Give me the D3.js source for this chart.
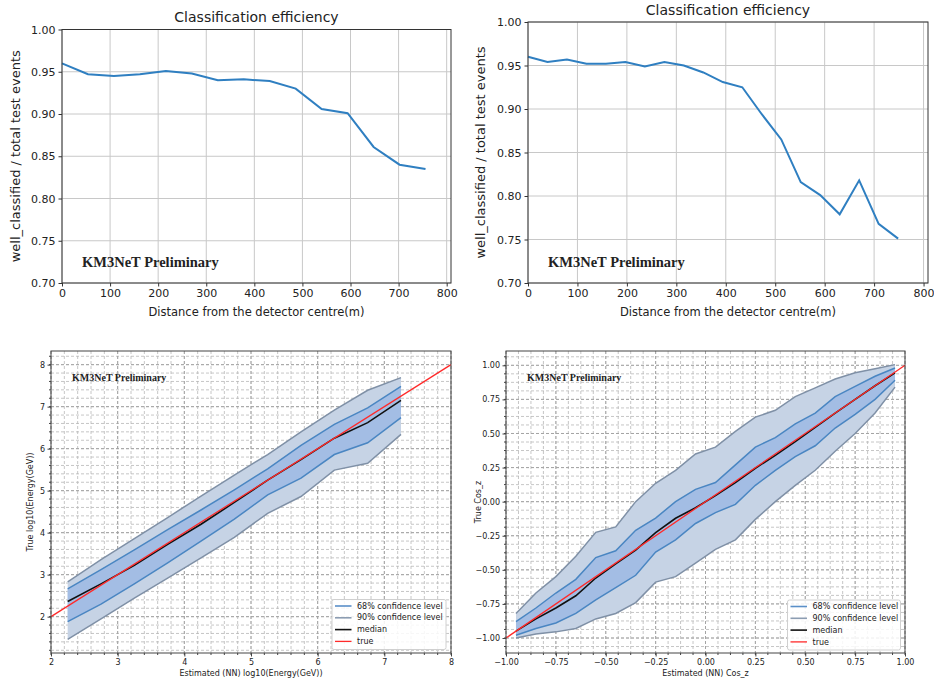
<!DOCTYPE html>
<html>
<head>
<meta charset="utf-8">
<script src="https://cdn.jsdelivr.net/npm/d3@7"></script>
<style>
body { margin: 0; background: #fff; }
text { font-family: "DejaVu Sans", sans-serif; fill: #222; }
.km3 { font-family: "Liberation Serif", serif; font-weight: bold; fill: #222; }
</style>
</head>
<body>
<div id="chart"></div>
<script>
// ---- top panels: classification efficiency
const distLeft = [0, 54, 108, 162, 216, 270, 324, 378, 432, 486, 540, 594, 648, 702, 756];
const effLeft = [0.960, 0.947, 0.945, 0.947, 0.951, 0.948, 0.940, 0.941, 0.939, 0.930, 0.906, 0.901, 0.861, 0.840, 0.835];
const distRight = [0, 39.4, 78.8, 118.2, 157.6, 197, 236.4, 275.8, 315.2, 354.6, 394, 433.4, 472.8, 512.2, 551.6, 591, 630.4, 669.8, 709.2, 748.6];
const effRight = [0.960, 0.954, 0.957, 0.952, 0.952, 0.954, 0.949, 0.954, 0.950, 0.942, 0.931, 0.925, 0.894, 0.865, 0.816, 0.801, 0.779, 0.818, 0.768, 0.751];
const effXTicks = [0, 100, 200, 300, 400, 500, 600, 700, 800];
const effYTicks = [0.70, 0.75, 0.80, 0.85, 0.90, 0.95, 1.00];

// ---- bottom left: energy
const energyX = [2.25, 2.75, 3.25, 3.75, 4.25, 4.75, 5.25, 5.75, 6.25, 6.75, 7.25];
const energy90lo = [1.46, 1.95, 2.44, 2.92, 3.40, 3.89, 4.46, 4.86, 5.49, 5.65, 6.34];
const energy68lo = [1.88, 2.30, 2.78, 3.28, 3.80, 4.32, 4.90, 5.30, 5.86, 6.14, 6.74];
const energyMed = [2.36, 2.78, 3.22, 3.72, 4.20, 4.72, 5.25, 5.74, 6.25, 6.62, 7.15];
const energy68hi = [2.66, 3.12, 3.59, 4.07, 4.54, 5.02, 5.52, 6.08, 6.58, 6.97, 7.48];
const energy90hi = [2.83, 3.36, 3.86, 4.36, 4.87, 5.37, 5.86, 6.40, 6.92, 7.39, 7.69];
const energyTrue = [2, 8];
const energyTicks = [2, 3, 4, 5, 6, 7, 8];

// ---- bottom right: cos zenith
const cosX = [-0.95, -0.85, -0.75, -0.65, -0.55, -0.45, -0.35, -0.25, -0.15, -0.05, 0.05, 0.15, 0.25, 0.35, 0.45, 0.55, 0.65, 0.75, 0.85, 0.95];
const cos90lo = [-1.00, -0.97, -0.955, -0.93, -0.86, -0.82, -0.74, -0.59, -0.55, -0.45, -0.35, -0.28, -0.13, 0.00, 0.12, 0.23, 0.37, 0.50, 0.65, 0.84];
const cos68lo = [-0.98, -0.93, -0.89, -0.82, -0.72, -0.63, -0.54, -0.37, -0.28, -0.16, -0.08, -0.02, 0.12, 0.23, 0.33, 0.41, 0.54, 0.64, 0.75, 0.89];
const cosMed = [-0.95, -0.86, -0.78, -0.69, -0.56, -0.456, -0.355, -0.227, -0.122, -0.045, 0.044, 0.14, 0.245, 0.34, 0.44, 0.545, 0.65, 0.75, 0.85, 0.945];
const cos68hi = [-0.88, -0.78, -0.67, -0.57, -0.41, -0.36, -0.21, -0.12, 0.00, 0.09, 0.14, 0.27, 0.40, 0.47, 0.57, 0.65, 0.77, 0.845, 0.92, 0.98];
const cos90hi = [-0.82, -0.67, -0.55, -0.40, -0.225, -0.185, 0.00, 0.135, 0.23, 0.35, 0.40, 0.515, 0.62, 0.67, 0.77, 0.835, 0.90, 0.945, 0.975, 1.005];
const cosTrue = [-1, 1];
const cosTicks = [-1, -0.75, -0.5, -0.25, 0, 0.25, 0.5, 0.75, 1];

const legendLabels = ["68% confidence level", "90% confidence level", "median", "true"];
const legendColors = ["#5a8fc8", "#8c9db2", "#111", "#ff2a2a"];

const svg = d3.select("#chart").append("svg")
    .attr("width", 934)
    .attr("height", 682);

const minus = d3.format(".2f");
const fmtSigned = d => minus(d).replace("-", "\u2212");

function drawEfficiency(box, xs, ys, titleY, ylabX) {
    const x = d3.scaleLinear().domain([0, 809]).range([box.left, box.right]);
    const y = d3.scaleLinear().domain([0.70, 1.00]).range([box.bottom, box.top]);
    const g = svg.append("g");

    // grid
    g.selectAll(".vg").data(effXTicks).join("line")
        .attr("x1", d => x(d)).attr("x2", d => x(d))
        .attr("y1", box.top).attr("y2", box.bottom)
        .attr("stroke", "#c8c8c8").attr("stroke-width", 1);
    g.selectAll(".hg").data(effYTicks).join("line")
        .attr("x1", box.left).attr("x2", box.right)
        .attr("y1", d => y(d)).attr("y2", d => y(d))
        .attr("stroke", "#c8c8c8").attr("stroke-width", 1);

    g.append("path")
        .datum(xs.map((d, i) => [d, ys[i]]))
        .attr("fill", "none")
        .attr("stroke", "#2f7fc1")
        .attr("stroke-width", 2)
        .attr("d", d3.line().x(d => x(d[0])).y(d => y(d[1])));

    g.append("rect")
        .attr("x", box.left).attr("y", box.top)
        .attr("width", box.right - box.left).attr("height", box.bottom - box.top)
        .attr("fill", "none").attr("stroke", "#333");

    const xa = g.append("g")
        .attr("transform", `translate(0,${box.bottom})`)
        .call(d3.axisBottom(x).tickValues(effXTicks).tickSize(3.5).tickPadding(3).tickFormat(d3.format("d")));
    const ya = g.append("g")
        .attr("transform", `translate(${box.left},0)`)
        .call(d3.axisLeft(y).tickValues(effYTicks).tickSize(3.5).tickPadding(3).tickFormat(d3.format(".2f")));
    [xa, ya].forEach(a => {
        a.select(".domain").remove();
        a.selectAll("line").attr("stroke", "#333");
        a.selectAll("text").style("font-size", "11px").style("font-family", "DejaVu Sans").attr("fill", "#333");
    });

    const cx = (box.left + box.right) / 2;
    g.append("text")
        .attr("x", cx).attr("y", titleY)
        .attr("text-anchor", "middle")
        .style("font-size", "14px")
        .text("Classification efficiency");
    g.append("text")
        .attr("x", cx).attr("y", 316)
        .attr("text-anchor", "middle")
        .style("font-size", "11.5px")
        .text("Distance from the detector centre(m)");
    g.append("text")
        .attr("transform", `translate(${ylabX},${(box.top + box.bottom) / 2}) rotate(-90)`)
        .attr("text-anchor", "middle")
        .style("font-size", "13px")
        .text("well_classified / total test events");
    g.append("text")
        .attr("class", "km3")
        .attr("x", x(0) + 20).attr("y", 267)
        .style("font-size", "14.5px")
        .text("KM3NeT Preliminary");
}

function drawBands(box, xDom, yDom, ticks, minorStep, xs, lo90, lo68, med, hi68, hi90, trueX, tickFmt, xLabel, yLabel, ylabX, legendBox) {
    const x = d3.scaleLinear().domain(xDom).range([box.left, box.right]);
    const y = d3.scaleLinear().domain(yDom).range([box.bottom, box.top]);
    const g = svg.append("g");

    const minorX = d3.range(xDom[0], xDom[1] + 1e-9, minorStep);
    const minorY = d3.range(Math.ceil(yDom[0] / minorStep) * minorStep, yDom[1], minorStep);
    const majorY = ticks.filter(t => t >= yDom[0] && t <= yDom[1]);

    // minor then major dashed grid
    g.selectAll(".mvx").data(minorX).join("line")
        .attr("x1", d => x(d)).attr("x2", d => x(d))
        .attr("y1", box.top).attr("y2", box.bottom)
        .attr("stroke", "#b8b8b8").attr("stroke-dasharray", "3,2").attr("stroke-width", 0.8);
    g.selectAll(".mhy").data(minorY).join("line")
        .attr("x1", box.left).attr("x2", box.right)
        .attr("y1", d => y(d)).attr("y2", d => y(d))
        .attr("stroke", "#b8b8b8").attr("stroke-dasharray", "3,2").attr("stroke-width", 0.8);
    g.selectAll(".Mvx").data(ticks).join("line")
        .attr("x1", d => x(d)).attr("x2", d => x(d))
        .attr("y1", box.top).attr("y2", box.bottom)
        .attr("stroke", "#a0a0a0").attr("stroke-dasharray", "3,2").attr("stroke-width", 0.9);
    g.selectAll(".Mhy").data(majorY).join("line")
        .attr("x1", box.left).attr("x2", box.right)
        .attr("y1", d => y(d)).attr("y2", d => y(d))
        .attr("stroke", "#a0a0a0").attr("stroke-dasharray", "3,2").attr("stroke-width", 0.9);

    const area = (lo, hi) => d3.area()
        .x((d, i) => x(xs[i]))
        .y0((d, i) => y(lo[i]))
        .y1((d, i) => y(hi[i]))(xs);
    const line = arr => d3.line().x((d, i) => x(xs[i])).y((d, i) => y(arr[i]))(xs);

    g.append("path").attr("d", area(lo90, hi90)).attr("fill", "#c6d3e5");
    g.append("path").attr("d", area(lo68, hi68)).attr("fill", "#a3bde4");
    [lo90, hi90].forEach(a => g.append("path").attr("d", line(a))
        .attr("fill", "none").attr("stroke", "#7f90a6").attr("stroke-width", 1.5));
    [lo68, hi68].forEach(a => g.append("path").attr("d", line(a))
        .attr("fill", "none").attr("stroke", "#4a86c2").attr("stroke-width", 1.5));
    g.append("path").attr("d", line(med))
        .attr("fill", "none").attr("stroke", "#111").attr("stroke-width", 1.6);
    g.append("line")
        .attr("x1", x(trueX[0])).attr("y1", y(trueX[0]))
        .attr("x2", x(trueX[1])).attr("y2", y(trueX[1]))
        .attr("stroke", "#ff2a2a").attr("stroke-width", 1.3);

    g.append("rect")
        .attr("x", box.left).attr("y", box.top)
        .attr("width", box.right - box.left).attr("height", box.bottom - box.top)
        .attr("fill", "none").attr("stroke", "#444");

    // minor tick marks
    g.selectAll(".mtx").data(minorX).join("line")
        .attr("x1", d => x(d)).attr("x2", d => x(d))
        .attr("y1", box.bottom).attr("y2", box.bottom + 2)
        .attr("stroke", "#444");
    g.selectAll(".mty").data(minorY).join("line")
        .attr("x1", box.left - 2).attr("x2", box.left)
        .attr("y1", d => y(d)).attr("y2", d => y(d))
        .attr("stroke", "#444");

    const xa = g.append("g")
        .attr("transform", `translate(0,${box.bottom})`)
        .call(d3.axisBottom(x).tickValues(ticks).tickSize(3.5).tickPadding(2.5).tickFormat(tickFmt));
    const ya = g.append("g")
        .attr("transform", `translate(${box.left},0)`)
        .call(d3.axisLeft(y).tickValues(majorY).tickSize(3.5).tickPadding(2.5).tickFormat(tickFmt));
    [xa, ya].forEach(a => {
        a.select(".domain").remove();
        a.selectAll("line").attr("stroke", "#444");
        a.selectAll("text").style("font-size", "8px").style("font-family", "DejaVu Sans").attr("fill", "#333");
    });

    g.append("text")
        .attr("x", (box.left + box.right) / 2).attr("y", 676)
        .attr("text-anchor", "middle")
        .style("font-size", "8px")
        .text(xLabel);
    g.append("text")
        .attr("transform", `translate(${ylabX},${(box.top + box.bottom) / 2}) rotate(-90)`)
        .attr("text-anchor", "middle")
        .style("font-size", "8px")
        .text(yLabel);
    g.append("text")
        .attr("class", "km3")
        .attr("x", box.left + 21).attr("y", 381)
        .style("font-size", "10px")
        .text("KM3NeT Preliminary");

    // legend
    const lg = g.append("g").attr("transform", `translate(${legendBox.x},${legendBox.y})`);
    lg.append("rect")
        .attr("width", legendBox.w).attr("height", 50)
        .attr("rx", 2)
        .attr("fill", "#fff").attr("fill-opacity", 0.85)
        .attr("stroke", "#d0d0d0");
    const row = lg.selectAll(".row").data(legendLabels).join("g")
        .attr("transform", (d, i) => `translate(0,${6.5 + i * 11.8})`);
    row.append("line")
        .attr("x1", 3).attr("x2", 19.5)
        .attr("stroke", (d, i) => legendColors[i])
        .attr("stroke-width", (d, i) => i === 3 ? 1.3 : 1.6);
    row.append("text")
        .attr("x", 25).attr("dy", "0.33em")
        .style("font-size", "8px")
        .text(d => d);
}

drawEfficiency({ left: 62, right: 451, top: 29.5, bottom: 283 }, distLeft, effLeft, 22, 20);
drawEfficiency({ left: 528, right: 928, top: 22, bottom: 283 }, distRight, effRight, 15, 485);

drawBands({ left: 51, right: 451, top: 351, bottom: 653 }, [2, 8], [1.135, 8.325], energyTicks, 0.2,
    energyX, energy90lo, energy68lo, energyMed, energy68hi, energy90hi, energyTrue,
    d3.format("d"), "Estimated (NN) log10(Energy(GeV))", "True log10(Energy(GeV))", 33,
    { x: 332, y: 599.5, w: 114 });

drawBands({ left: 506, right: 905, top: 351, bottom: 653 }, [-1, 1], [-1.11, 1.105], cosTicks, 0.0625,
    cosX, cos90lo, cos68lo, cosMed, cos68hi, cos90hi, cosTrue,
    fmtSigned, "Estimated (NN) Cos_z", "True Cos_z", 481,
    { x: 787.5, y: 600, w: 113 });
</script>
</body>
</html>
